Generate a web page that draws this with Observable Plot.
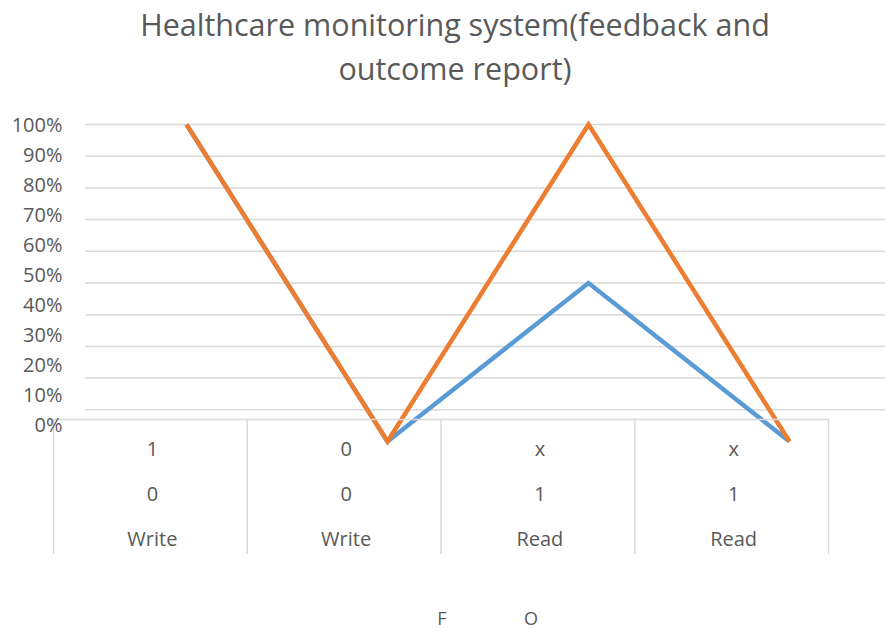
<!DOCTYPE html>
<html>
<head>
<meta charset="utf-8">
<script src="https://cdn.jsdelivr.net/npm/d3@7"></script>
<script src="https://cdn.jsdelivr.net/npm/@observablehq/plot@0.6"></script>
<style>
  html, body { margin: 0; padding: 0; background: #fff; }
  #chart { position: relative; width: 885px; height: 629px; overflow: hidden; font-family: "Open Sans", Lato, sans-serif; color: #595959; }
  #chart > svg, #chart > figure { position: absolute; left: 0; top: 0; }
  #title { position: absolute; left: 0; top: 2px; width: 910px; text-align: center; font-size: 30.5px; font-weight: 400; line-height: 44px; color: #595959; }
  #legend { position: absolute; top: 606px; left: 0; width: 885px; height: 28px; font-size: 18px; color: #595959; }
  #legend span { position: absolute; transform: translateX(-50%); }
</style>
</head>
<body>
<div id="chart">
  <div id="title">Healthcare monitoring system(feedback and<br>outcome report)</div>
  <div id="legend"></div>
</div>
<script>
// ---- data ----
const seriesNames = ["F", "O"];
const fValues = [1, 0, 0.5, 0];
const oValues = [1, 0, 1, 0];
const row1 = ["1", "0", "x", "x"];
const row2 = ["0", "0", "1", "1"];
const row3 = ["Write", "Write", "Read", "Read"];
const yTicks = [0, 0.1, 0.2, 0.3, 0.4, 0.5, 0.6, 0.7, 0.8, 0.9, 1];
const colors = ["#5B9BD5", "#ED7D31"];

const W = 885, H = 629;
const font = "'Open Sans', Lato, sans-serif";
const grey = "#595959";
const gridColor = "#d9d9d9";

const lineData = [];
[fValues, oValues].forEach((vals, s) => vals.forEach((v, i) => lineData.push({series: seriesNames[s], i, v})));

// Plot 1: gridlines + lines
const p1 = Plot.plot({
  width: W, height: H,
  marginLeft: 85, marginRight: 0, marginTop: 0, marginBottom: 0,
  style: {background: "transparent", fontFamily: font},
  x: {type: "linear", domain: [0, fValues.length - 1], range: [186, 789], axis: null},
  y: {type: "linear", domain: [0, 1], range: [441, 124], axis: null},
  color: {domain: seriesNames, range: colors},
  marks: [
    Plot.ruleY(yTicks.filter(d => d > 0), {stroke: gridColor, strokeWidth: 1.5}),
    Plot.line(lineData, {x: "i", y: "v", z: "series", stroke: "series", strokeWidth: 4.5, strokeLinecap: "butt", strokeLinejoin: "miter", strokeMiterlimit: 10})
  ]
});

// Plot 2: data table under the chart
const n = row3.length;
const cells = [];
[row1, row2, row3].forEach((row, r) => row.forEach((t, i) => cells.push({r: "r" + r, i: i + 0.5, t})));
const p2 = Plot.plot({
  width: W, height: 554,
  marginLeft: 53, marginRight: W - 828, marginTop: 419, marginBottom: 0,
  style: {background: "transparent", fontFamily: font, overflow: "visible"},
  x: {type: "linear", domain: [0, n], axis: null},
  y: {type: "point", domain: ["r0", "r1", "r2"], range: [449, 539], padding: 0, axis: null},
  marks: [
    Plot.ruleX(d3.range(n + 1), {stroke: gridColor, strokeWidth: 1.5}),
    Plot.frame({anchor: "top", stroke: gridColor, strokeWidth: 1.5}),
    Plot.text(cells, {x: "i", y: "r", text: "t", fill: grey, fontSize: 20, dx: 2})
  ]
});

// Plot 3: y tick labels
const p3 = Plot.plot({
  width: 62, height: H,
  marginLeft: 0, marginRight: 0, marginTop: 0, marginBottom: 0,
  style: {background: "transparent", fontFamily: font},
  x: {axis: null},
  y: {type: "linear", domain: [0, 1], range: [425.5, 125], axis: null},
  marks: [
    Plot.text(yTicks, {y: d => d, text: d => d3.format(".0%")(d), frameAnchor: "right", textAnchor: "end", fill: grey, fontSize: 20})
  ]
});

const chart = document.getElementById("chart");
chart.insertBefore(p1, chart.firstChild);
chart.appendChild(p2);
chart.appendChild(p3);

const legend = document.getElementById("legend");
const legendX = [442, 531];
seriesNames.forEach((s, k) => {
  const sp = document.createElement("span");
  sp.textContent = s;
  sp.style.left = legendX[k] + "px";
  legend.appendChild(sp);
});
</script>
</body>
</html>
